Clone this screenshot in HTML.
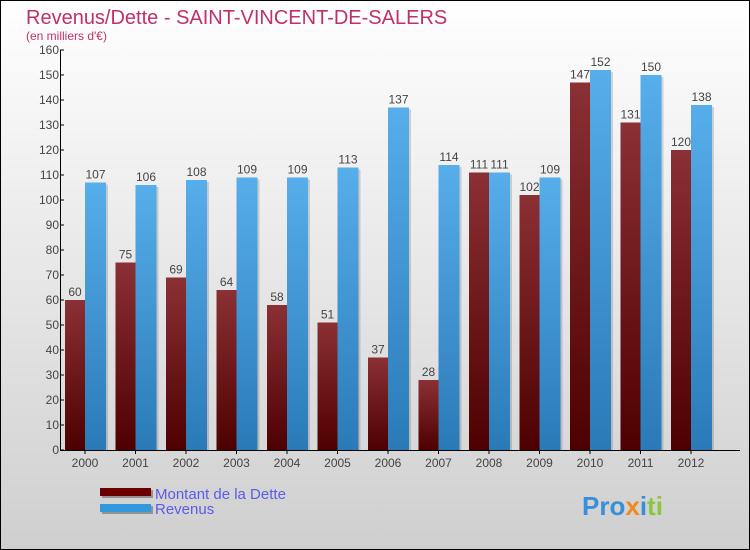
<!DOCTYPE html>
<html><head><meta charset="utf-8"><style>
body{margin:0}
svg{display:block;font-family:"Liberation Sans",sans-serif}
</style></head><body>
<svg width="750" height="550" xmlns="http://www.w3.org/2000/svg">
<defs>
<linearGradient id="bg" x1="0" y1="0" x2="0" y2="1"><stop offset="0" stop-color="#ffffff"/><stop offset="1" stop-color="#cfcfcf"/></linearGradient>
<linearGradient id="gd" x1="0" y1="0" x2="0" y2="1"><stop offset="0" stop-color="#8b3034"/><stop offset="1" stop-color="#4e0000"/></linearGradient>
<linearGradient id="gr" x1="0" y1="0" x2="0" y2="1"><stop offset="0" stop-color="#56aeea"/><stop offset="1" stop-color="#2a7ab8"/></linearGradient>
</defs>
<rect x="0.5" y="0.5" width="749" height="549" fill="url(#bg)" stroke="#000"/>
<text x="26" y="24" font-size="20" fill="#c0306a">Revenus/Dette - SAINT-VINCENT-DE-SALERS</text>
<text x="26" y="40" font-size="12" fill="#c0306a">(en milliers d'€)</text>
<g id="plot"></g>
<g>
<rect x="102" y="490" width="51" height="8" fill="#000" opacity="0.3"/>
<rect x="100" y="488" width="51" height="8" fill="#6a0000"/>
<text x="155" y="499" font-size="15" fill="#5b5bea">Montant de la Dette</text>
<rect x="102" y="506" width="51" height="8" fill="#000" opacity="0.3"/>
<rect x="100" y="504" width="51" height="8" fill="#3399dd"/>
<text x="155" y="514" font-size="15" fill="#5b5bea">Revenus</text>
</g>
<text x="582" y="515" font-size="26" font-weight="bold"><tspan fill="#3a8fd8">Pro</tspan><tspan fill="#f08a20">x</tspan><tspan fill="#3a8fd8">i</tspan><tspan fill="#8cc63f">ti</tspan></text>
</svg>
<script>
const categories=["2000","2001","2002","2003","2004","2005","2006","2007","2008","2009","2010","2011","2012"];
const dette=[60,75,69,64,58,51,37,28,111,102,147,131,120];
const revenus=[107,106,108,109,109,113,137,114,111,109,152,150,138];
const yTicks=[0,10,20,30,40,50,60,70,80,90,100,110,120,130,140,150,160];
const NS="http://www.w3.org/2000/svg";
const g=document.getElementById('plot');
const y=v=>450-v*2.5;
const cx=i=>85+i*50.5;
function mk(t,a,txt){const e=document.createElementNS(NS,t);for(const k in a)e.setAttribute(k,a[k]);if(txt!=null)e.textContent=txt;g.appendChild(e);return e;}
categories.forEach((c,i)=>{
 const x=cx(i);
 mk('rect',{x:x-18,y:y(dette[i])+2,width:20,height:450-y(dette[i])-2,fill:'#000',opacity:0.15});
 const b1=mk('rect',{x:x-20,y:y(dette[i]),width:20,height:450-y(dette[i]),fill:'url(#gd)'});
 
 
 mk('rect',{x:x+2,y:y(revenus[i])+2,width:21,height:450-y(revenus[i])-2,fill:'#000',opacity:0.15});
 const b2=mk('rect',{x:x,y:y(revenus[i]),width:21,height:450-y(revenus[i]),fill:'url(#gr)'});
 
 
 const l1=mk('text',{x:x-10,y:y(dette[i])-4,'font-size':12,fill:'#444','text-anchor':'middle'},dette[i]);
 
 
 const l2=mk('text',{x:x+10.5,y:y(revenus[i])-4,'font-size':12,fill:'#444','text-anchor':'middle'},revenus[i]);
 
 
 mk('line',{x1:x,x2:x,y1:450,y2:454,stroke:'#000'});
 const xl=mk('text',{x:x,y:467,'font-size':12,fill:'#444','text-anchor':'middle'},c);
 
 
});
yTicks.forEach(v=>{
 mk('line',{x1:60,x2:64,y1:y(v),y2:y(v),stroke:'#000'});
 const t=mk('text',{x:59,y:y(v)+4,'font-size':12,fill:'#444','text-anchor':'end'},v);
 
 
});
const ya=mk('line',{x1:60.5,x2:60.5,y1:50,y2:450.5,stroke:'#000'});


const xa=mk('line',{x1:60,x2:740,y1:450.5,y2:450.5,stroke:'#000'});


</script>
</body></html>
